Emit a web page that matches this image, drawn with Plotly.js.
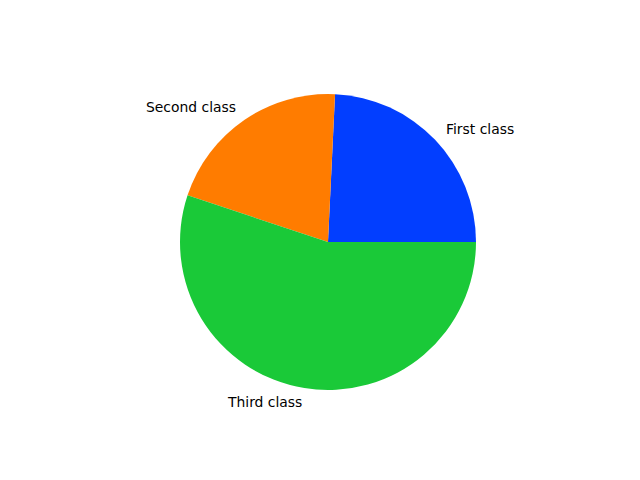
<!DOCTYPE html>
<html>
<head>
<meta charset="utf-8">
<script src="https://cdn.plot.ly/plotly-3.0.1.min.js"></script>
<style>html,body{margin:0;padding:0;background:#fff;}</style>
</head>
<body>
<div id="chart" style="width:640px;height:480px;"></div>
<script>
const labels = ["First class", "Second class", "Third class"];
const values = [216, 184, 491];
const colors = ["#023eff", "#ff7c00", "#1ac938"];

const W = 640, H = 480;
const cx = 328, cy = 242, R = 148;
const dom = {
  x: [(cx - R) / W, (cx + R) / W],
  y: [(H - cy - R) / H, (H - cy + R) / H]
};

// label annotations at 1.1 * radius, mid-angle of each wedge (counterclockwise from 3 o'clock)
const total = values.reduce((a, b) => a + b, 0);
let start = 0;
const annotations = values.map((v, i) => {
  const span = 360 * v / total;
  const mid = (start + span / 2) * Math.PI / 180;
  start += span;
  const px = cx + 1.1 * R * Math.cos(mid);
  const py = cy - 1.1 * R * Math.sin(mid);
  const right = Math.cos(mid) >= 0;
  return {
    text: labels[i],
    x: px / W, y: 1 - py / H,
    xref: "paper", yref: "paper",
    xanchor: right ? "left" : "right",
    yanchor: "middle",
    xshift: right ? -2 : 2,
    yshift: 1,
    showarrow: false,
    font: {family: "DejaVu Sans", size: 13.9, color: "#000"}
  };
});

// Plotly's counterclockwise pies end the first slice at the rotation angle;
// shift so the first slice starts at 3 o'clock like matplotlib.
const rotation = 90 - 360 * values[0] / total;

Plotly.newPlot("chart", [{
  type: "pie",
  labels: labels,
  values: values,
  sort: false,
  direction: "counterclockwise",
  rotation: rotation,
  textinfo: "none",
  hoverinfo: "label+value",
  marker: {colors: colors, line: {width: 0}},
  domain: dom
}], {
  width: W, height: H,
  margin: {l: 0, r: 0, t: 0, b: 0},
  showlegend: false,
  paper_bgcolor: "#fff",
  annotations: annotations
}, {staticPlot: true});
</script>
</body>
</html>
